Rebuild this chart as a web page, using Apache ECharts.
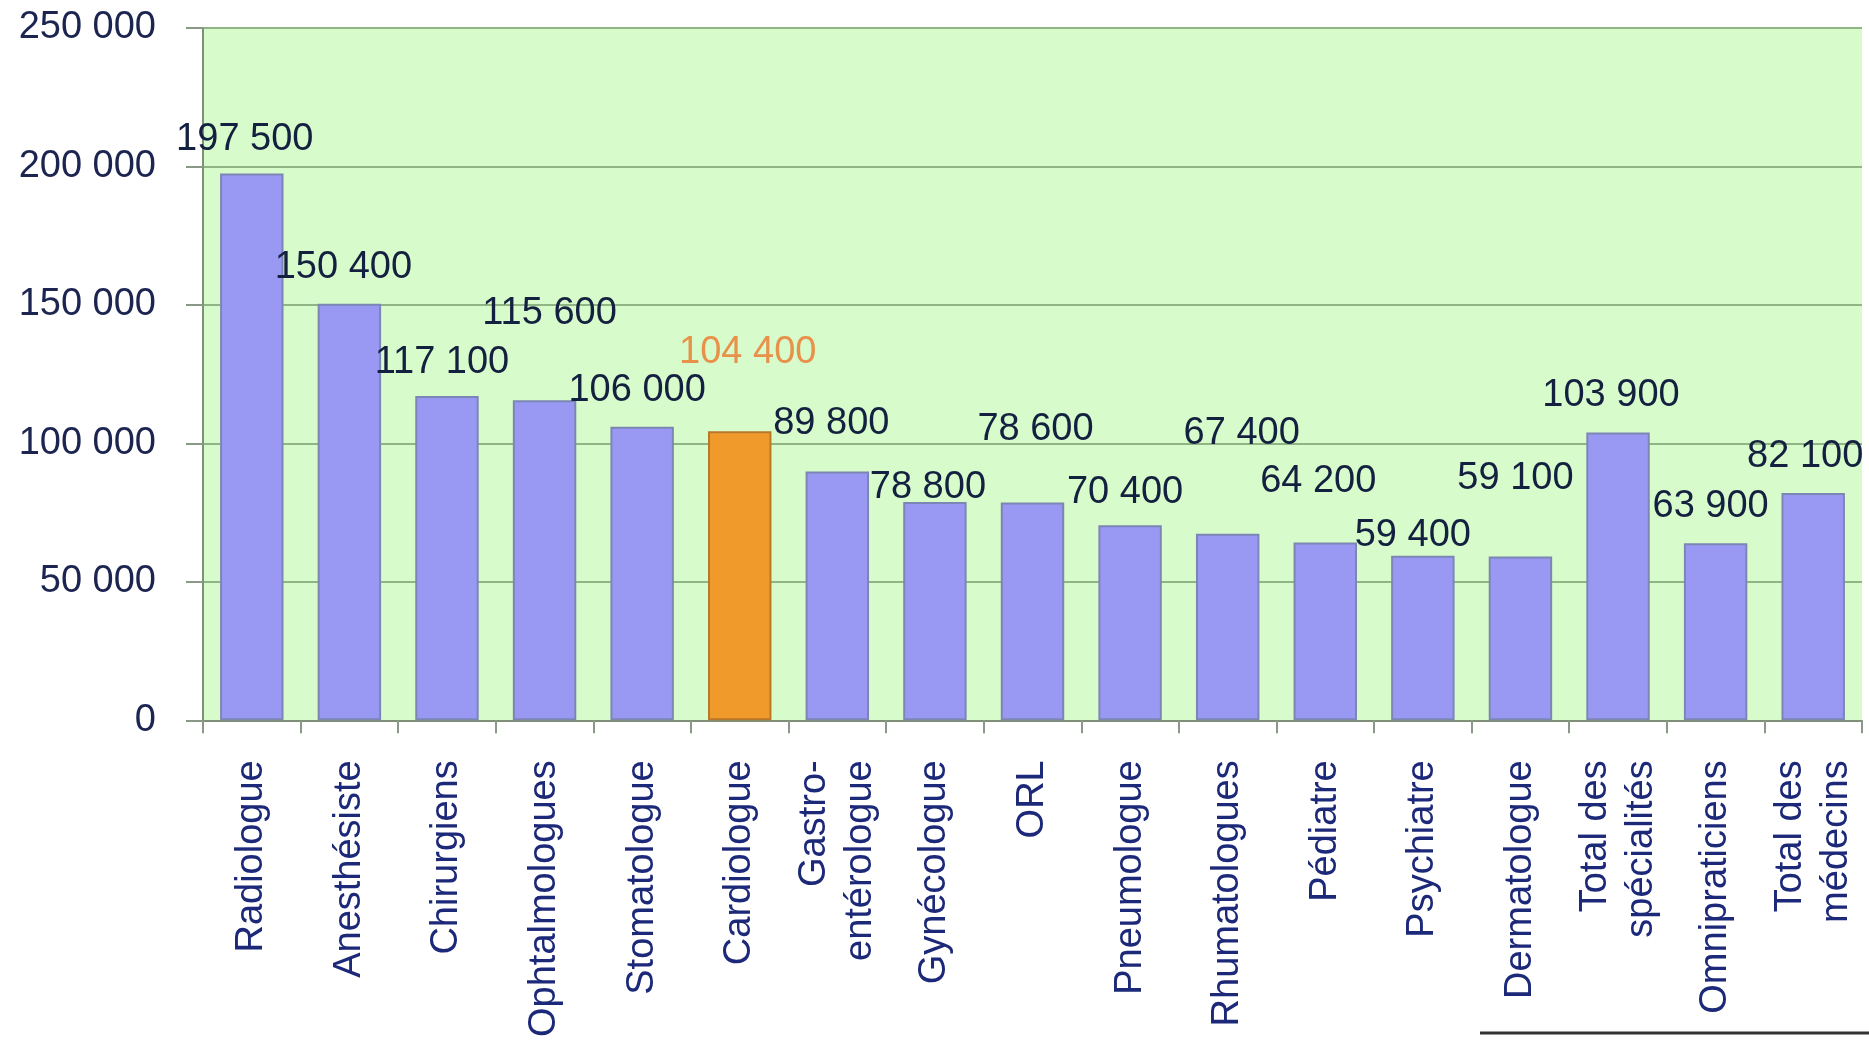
<!DOCTYPE html>
<html>
<head>
<meta charset="utf-8">
<script src="https://cdn.jsdelivr.net/npm/echarts@6/dist/echarts.min.js"></script>
<style>
html,body{margin:0;padding:0;background:#fff;}
#c{width:1869px;height:1040px;}
</style>
</head>
<body>
<div id="c"></div>
<script>
const categories = ["Radiologue","Anesthésiste","Chirurgiens","Ophtalmologues","Stomatologue","Cardiologue","Gastro-\nentérologue","Gynécologue","ORL","Pneumologue","Rhumatologues","Pédiatre","Psychiatre","Dermatologue","Total des\nspécialités","Omnipraticiens","Total des\nmédecins"];
const values = [197500,150400,117100,115600,106000,104400,89800,78800,78600,70400,67400,64200,59400,59100,103900,63900,82100];
const highlightIndex = 5;
const yTicks = [0,50000,100000,150000,200000,250000];

// label offsets (style only) per bar
const labelOffsets = [[-7,-15],[-6,-17],[-5,-14],[5,-68],[-5,-17],[8,-60],[-6,-29],[-7,4],[3,-54],[-5,-14],[14,-81],[-7,-42],[-10,-1],[-5,-59],[-7,-18],[-5,-18],[-8,-17]];

function fmt(v){ return String(v).replace(/\B(?=(\d{3})+(?!\d))/g, ' '); }

const chart = echarts.init(document.getElementById('c'), null, {renderer:'canvas'});
const FONT = '"Liberation Sans", Arial, sans-serif';
const data = values.map((v,i)=>{
  const hi = i===highlightIndex;
  return {
    value: v,
    itemStyle: hi ? {color:'#f09a2c', borderColor:'#b8782a', borderWidth:2} : {color:'#9999f4', borderColor:'#7c86b4', borderWidth:2},
    label: {
      offset: labelOffsets[i],
      color: hi ? '#e8914a' : '#14203f'
    }
  };
});

chart.setOption({
  animation:false,
  backgroundColor:'#ffffff',
  grid:{left:203, right:7, top:28, bottom:314, show:true, backgroundColor:'#d8fbcb', borderWidth:0},
  xAxis:{
    type:'category',
    data:categories,
    boundaryGap:true,
    axisLine:{show:true, lineStyle:{color:'#7f8f78', width:2}},
    axisTick:{show:true, length:13, lineStyle:{color:'#8a9888', width:2}},
    axisLabel:{rotate:90, interval:0, margin:40, fontFamily:FONT, fontSize:38, color:'#1c2878', lineHeight:46}
  },
  yAxis:{
    type:'value',
    min:0, max:250000, interval:50000,
    axisLine:{show:true, lineStyle:{color:'#7f8f78', width:2}},
    axisTick:{show:true, length:17, lineStyle:{color:'#8a9888', width:2}},
    splitLine:{show:true, lineStyle:{color:'#8fb585', width:2}},
    axisLabel:{margin:47, fontFamily:FONT, fontSize:38, color:'#1c2450', formatter:v=>fmt(v)}
  },
  series:[{
    type:'bar',
    data:data,
    barCategoryGap:'35%',
    label:{show:true, position:'top', distance:0, fontFamily:FONT, fontSize:38, formatter:p=>fmt(p.value)}
  }],
  graphic:[{
    type:'line',
    shape:{x1:1480, y1:1033, x2:1869, y2:1033},
    style:{stroke:'#333333', lineWidth:3}
  }]
});
</script>
</body>
</html>
